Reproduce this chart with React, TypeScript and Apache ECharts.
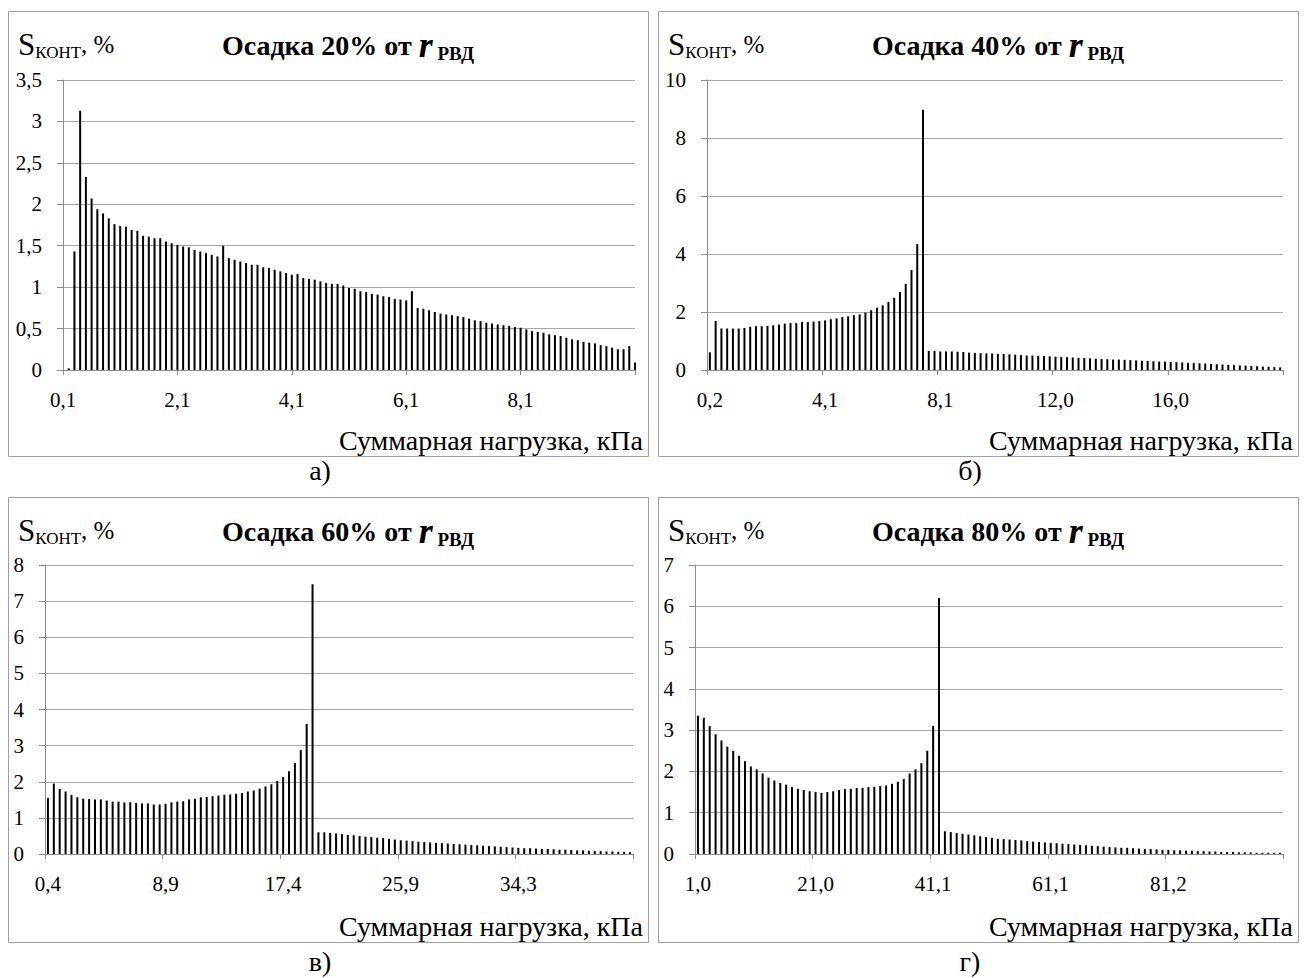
import { useEffect, useRef } from "react";
import * as echarts from "echarts";

// ---- Data ----
// Panel а) — settlement 20 % of r_РВД (101 categories, "on tick marks")
const valuesA = [
  0, 0.02, 1.43, 3.13, 2.33, 2.07, 1.94, 1.89, 1.83, 1.76,
  1.74, 1.73, 1.69, 1.68, 1.62, 1.61, 1.59, 1.59, 1.55, 1.53,
  1.51, 1.49, 1.48, 1.45, 1.43, 1.41, 1.39, 1.37, 1.5, 1.35,
  1.33, 1.31, 1.29, 1.27, 1.27, 1.24, 1.23, 1.21, 1.19, 1.17,
  1.15, 1.16, 1.11, 1.1, 1.09, 1.07, 1.05, 1.04, 1.04, 1.02,
  0.99, 0.98, 0.95, 0.94, 0.92, 0.91, 0.89, 0.88, 0.86, 0.85,
  0.84, 0.95, 0.75, 0.74, 0.72, 0.7, 0.68, 0.67, 0.66, 0.65,
  0.64, 0.62, 0.6, 0.59, 0.57, 0.56, 0.55, 0.54, 0.53, 0.52,
  0.51, 0.49, 0.47, 0.46, 0.45, 0.43, 0.42, 0.41, 0.39, 0.37,
  0.36, 0.34, 0.33, 0.32, 0.3, 0.29, 0.27, 0.25, 0.25, 0.29,
  0.09,
];
const ticksA = ["0,1", "2,1", "4,1", "6,1", "8,1"];

// Panel б) — settlement 40 %
const valuesB = [
  0.61, 1.69, 1.43, 1.43, 1.43, 1.43, 1.45, 1.49, 1.51, 1.51,
  1.52, 1.54, 1.57, 1.6, 1.62, 1.62, 1.66, 1.66, 1.67, 1.69,
  1.71, 1.75, 1.78, 1.83, 1.85, 1.89, 1.92, 1.98, 2.06, 2.15,
  2.23, 2.34, 2.49, 2.69, 2.97, 3.45, 4.34, 8.97, 0.66, 0.66,
  0.64, 0.64, 0.64, 0.63, 0.62, 0.6, 0.59, 0.58, 0.57, 0.57,
  0.56, 0.55, 0.54, 0.53, 0.52, 0.5, 0.5, 0.49, 0.48, 0.47,
  0.46, 0.45, 0.44, 0.43, 0.42, 0.41, 0.4, 0.39, 0.38, 0.37,
  0.36, 0.36, 0.35, 0.34, 0.33, 0.32, 0.31, 0.3, 0.29, 0.29,
  0.28, 0.27, 0.26, 0.25, 0.24, 0.23, 0.22, 0.21, 0.2, 0.19,
  0.18, 0.17, 0.16, 0.15, 0.14, 0.13, 0.12, 0.11, 0.1, 0.09,
];
const ticksB = ["0,2", "4,1", "8,1", "12,0", "16,0"];

// Panel в) — settlement 60 %
const valuesC = [
  1.55, 1.95, 1.8, 1.73, 1.64, 1.57, 1.53, 1.52, 1.51, 1.51,
  1.48, 1.45, 1.45, 1.43, 1.43, 1.41, 1.4, 1.4, 1.37, 1.37,
  1.39, 1.43, 1.45, 1.46, 1.51, 1.53, 1.57, 1.58, 1.6, 1.62,
  1.64, 1.65, 1.67, 1.69, 1.73, 1.76, 1.81, 1.87, 1.93, 2.02,
  2.13, 2.29, 2.52, 2.88, 3.6, 7.47, 0.6, 0.6, 0.58, 0.57,
  0.55, 0.53, 0.52, 0.5, 0.48, 0.47, 0.45, 0.44, 0.42, 0.4,
  0.38, 0.37, 0.36, 0.34, 0.33, 0.32, 0.31, 0.3, 0.29, 0.28,
  0.27, 0.26, 0.25, 0.24, 0.23, 0.22, 0.21, 0.2, 0.19, 0.18,
  0.17, 0.16, 0.16, 0.15, 0.14, 0.14, 0.13, 0.12, 0.12, 0.11,
  0.1, 0.1, 0.09, 0.08, 0.08, 0.07, 0.07, 0.06, 0.06, 0.05,
];
const ticksC = ["0,4", "8,9", "17,4", "25,9", "34,3"];

// Panel г) — settlement 80 %
const valuesD = [
  3.35, 3.3, 3.1, 2.9, 2.75, 2.6, 2.5, 2.38, 2.25, 2.12,
  2.05, 1.95, 1.85, 1.78, 1.72, 1.68, 1.62, 1.58, 1.55, 1.52,
  1.5, 1.48, 1.5, 1.52, 1.55, 1.57, 1.58, 1.6, 1.6, 1.62,
  1.63, 1.65, 1.66, 1.7, 1.75, 1.82, 1.95, 2.05, 2.2, 2.5,
  3.1, 6.2, 0.55, 0.53, 0.51, 0.49, 0.47, 0.45, 0.43, 0.41,
  0.39, 0.37, 0.36, 0.35, 0.34, 0.33, 0.31, 0.3, 0.29, 0.28,
  0.27, 0.26, 0.25, 0.24, 0.23, 0.22, 0.21, 0.2, 0.19, 0.18,
  0.17, 0.16, 0.15, 0.15, 0.14, 0.13, 0.12, 0.12, 0.11, 0.1,
  0.1, 0.09, 0.09, 0.08, 0.08, 0.07, 0.07, 0.06, 0.06, 0.05,
  0.05, 0.05, 0.04, 0.04, 0.04, 0.03, 0.03, 0.03, 0.03, 0.03,
];
const ticksD = ["1,0", "21,0", "41,1", "61,1", "81,2"];

const titles = ["Осадка 20% от ", "Осадка 40% от ", "Осадка 60% от ", "Осадка 80% от "];
const captions = ["а)", "б)", "в)", "г)"];
const yMaxes = [3.5, 10, 8, 7];
const ySteps = [0.5, 2, 1, 1];
const xAxisName = "Суммарная нагрузка, кПа";

// ---- Layout ----
const FONT = "'Liberation Serif', 'Times New Roman', serif";
const GRID_COLOR = "#a6a6a6";
const AXIS_COLOR = "#8c8c8c";
const offsets = [
  [0, 0],
  [650, 0],
  [0, 486],
  [650, 486],
];
const grids = [
  { left: 63, top: 80, width: 572, height: 290 },
  { left: 707, top: 80, width: 576, height: 290 },
  { left: 45, top: 565, width: 588, height: 289 },
  { left: 695, top: 565, width: 588, height: 289 },
];

const panelValues = [valuesA, valuesB, valuesC, valuesD];
const panelTicks = [ticksA, ticksB, ticksC, ticksD];
const onTickMarks = [true, false, false, false];

function fmtNum(v: number) {
  return String(v).replace(".", ",");
}

export default function App() {
  const ref = useRef<HTMLDivElement>(null);

  useEffect(() => {
    if (!ref.current) return;
    const chart = echarts.init(ref.current, undefined, { renderer: "svg" });

    const xAxes = panelValues.map((vals, p) => ({
      type: "category" as const,
      gridIndex: p,
      data: vals.map((_, i) => String(i)),
      boundaryGap: !onTickMarks[p],
      axisLine: { show: true, lineStyle: { color: AXIS_COLOR, width: 1 } },
      axisTick: { show: true, interval: 19, length: 5, lineStyle: { color: AXIS_COLOR } },
      axisLabel: {
        interval: 19,
        margin: 19,
        fontFamily: FONT,
        fontSize: 21,
        color: "#000",
        formatter: (_v: string, i: number) => (i % 20 === 0 ? panelTicks[p][i / 20] ?? "" : ""),
      },
      splitLine: { show: false },
    }));

    const yAxes = yMaxes.map((mx, p) => ({
      type: "value" as const,
      gridIndex: p,
      min: 0,
      max: mx,
      interval: ySteps[p],
      axisLine: { show: true, lineStyle: { color: AXIS_COLOR, width: 1 } },
      axisTick: { show: true, length: 6, lineStyle: { color: AXIS_COLOR } },
      axisLabel: {
        margin: 21,
        fontFamily: FONT,
        fontSize: 21,
        color: "#000",
        formatter: (v: number) => fmtNum(v),
      },
      splitLine: { show: true, lineStyle: { color: GRID_COLOR, width: 1 } },
    }));

    const series = panelValues.map((vals, p) => ({
      type: "bar" as const,
      xAxisIndex: p,
      yAxisIndex: p,
      data: vals,
      barWidth: 2,
      itemStyle: { color: "#000" },
      silent: true,
    }));

    const graphic: any[] = [];
    offsets.forEach(([ox, oy], p) => {
      graphic.push({
        type: "rect",
        silent: true,
        shape: { x: ox + 8.5, y: oy + 11.5, width: 640, height: 445 },
        style: { fill: "none", stroke: "#a0a0a0", lineWidth: 1 },
      });
      graphic.push({
        type: "text",
        silent: true,
        x: ox + 18,
        y: oy + 44,
        style: {
          text: "{s|S}{k|КОНТ}{p|, %}",
          verticalAlign: "middle",
          fill: "#000",
          rich: {
            s: { fontFamily: FONT, fontSize: 31, lineHeight: 34 },
            k: { fontFamily: FONT, fontSize: 17, verticalAlign: "bottom", lineHeight: 19 },
            p: { fontFamily: FONT, fontSize: 25, lineHeight: 34 },
          },
        },
      });
      graphic.push({
        type: "text",
        silent: true,
        x: ox + 348,
        y: oy + 45,
        style: {
          text: `{t|${titles[p]}}{r|r}{s| РВД}`,
          align: "center",
          verticalAlign: "middle",
          fill: "#000",
          rich: {
            t: { fontFamily: FONT, fontSize: 28, fontWeight: "bold", lineHeight: 36 },
            r: { fontFamily: FONT, fontSize: 36, fontWeight: "bold", fontStyle: "italic", lineHeight: 36 },
            s: { fontFamily: FONT, fontSize: 19, fontWeight: "bold", verticalAlign: "bottom", lineHeight: 22 },
          },
        },
      });
      graphic.push({
        type: "text",
        silent: true,
        x: ox + 643,
        y: oy + 440,
        style: {
          text: xAxisName,
          align: "right",
          verticalAlign: "middle",
          fontFamily: FONT,
          fontSize: 28,
          fill: "#000",
        },
      });
      graphic.push({
        type: "text",
        silent: true,
        x: ox + 320,
        y: p < 2 ? 470 : 961,
        style: {
          text: captions[p],
          align: "center",
          verticalAlign: "middle",
          fontFamily: FONT,
          fontSize: 28,
          fill: "#000",
        },
      });
    });

    chart.setOption({
      animation: false,
      backgroundColor: "#fff",
      grid: grids.map((g) => ({ ...g, containLabel: false })),
      xAxis: xAxes,
      yAxis: yAxes,
      series,
      graphic,
    });

    return () => chart.dispose();
  }, []);

  return (
    <div
      ref={ref}
      style={{ position: "absolute", left: 0, top: 0, width: 1306, height: 978 }}
    />
  );
}
